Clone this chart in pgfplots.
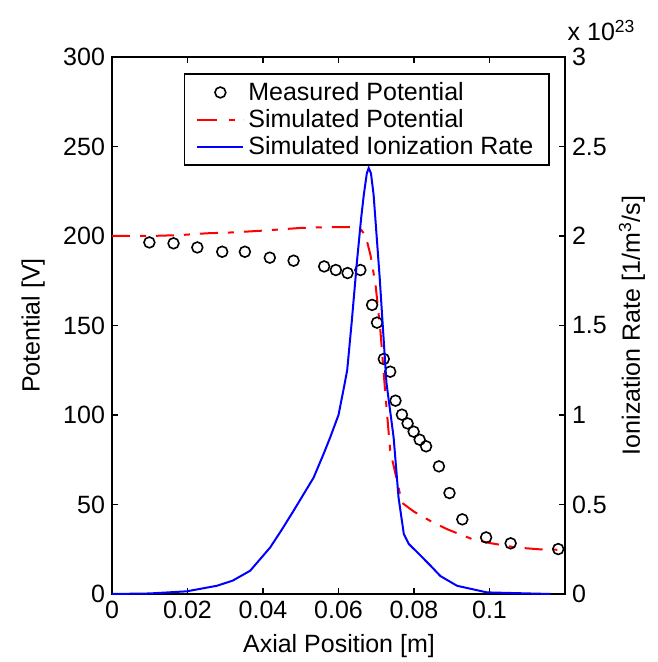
\documentclass[border=0pt]{standalone}
\usepackage{fontspec}
\setmainfont{Liberation Sans}
\usepackage{pgfplots}
\pgfplotsset{compat=1.18}
\usetikzlibrary{calc}

\pgfplotsset{
  /pgf/number format/assume math mode=true,
  myax/.style={
    width=226.5pt, height=268.5pt, scale only axis,
    xmin=0, xmax=0.12, ymin=0,
    font=\fontsize{12.5}{14.5}\selectfont,
    tick align=inside, major tick length=3pt,
    axis line style={line width=0.8pt},
    every tick/.style={black, line width=0.8pt},
  },
  lineleg/.style={legend image code/.code={\draw[##1] (0pt,0pt) -- (23pt,0pt);}},
  markleg/.style={legend image code/.code={\draw[##1] plot coordinates {(11.5pt,0pt)};}},
}

\begin{document}
\begin{tikzpicture}
  \begin{axis}[
      myax, name=ax,
      ymax=300,
      xtick={0,0.02,0.04,0.06,0.08,0.1},
      scaled x ticks=false,
      xticklabel style={/pgf/number format/fixed, /pgf/number format/precision=2},
      ytick={0,50,...,300},
      ytick pos=left,
      xlabel={Axial Position [m]},
      ylabel={Potential [V]},
      xlabel style={at={(axis description cs:0.501,-0.097)}, anchor=center},
      ylabel style={at={(axis description cs:-0.174,0.5)}, anchor=center},
    ]
    % measured potential
    \addplot[only marks, mark=o, mark size=2.7pt, black, line width=0.8pt]
      table[row sep=\\] {
        x y \\
        0.0099 196.4 \\ 0.0163 195.9 \\ 0.0226 193.6 \\ 0.0292 191.2 \\
        0.0352 191.2 \\ 0.0418 187.9 \\ 0.0481 186.2 \\ 0.0562 183.0 \\
        0.0593 181.0 \\ 0.0624 179.3 \\ 0.0658 181.0 \\ 0.0689 161.5 \\
        0.0702 151.6 \\ 0.0720 131.3 \\ 0.0737 124.2 \\ 0.0751 108.0 \\
        0.0768 100.2 \\ 0.0783 95.3 \\ 0.0799 90.7 \\ 0.0815 86.2 \\
        0.0832 82.5 \\ 0.0866 71.3 \\ 0.0894 56.4 \\ 0.0928 41.7 \\
        0.0991 31.6 \\ 0.1056 28.3 \\ 0.1182 25.1 \\
      };
    % simulated potential
    \addplot[red, line width=1pt, dash pattern=on 9pt off 5pt on 3pt off 5pt]
      table[row sep=\\] {
        x y \\
        0 200 \\ 0.010 200 \\ 0.018 200.5 \\ 0.025 201.5 \\ 0.032 202 \\
        0.040 203 \\ 0.050 204.5 \\ 0.058 205 \\ 0.064 205 \\ 0.066 203.5 \\
        0.0672 200 \\ 0.0685 189 \\ 0.0698 173 \\ 0.0711 147 \\ 0.0724 112 \\
        0.0737 80 \\ 0.0751 67 \\ 0.0768 51 \\ 0.080 46 \\ 0.085 40 \\
        0.089 36 \\ 0.095 31 \\ 0.100 28.5 \\ 0.107 26 \\ 0.113 25 \\
        0.118 24.7 \\
      };
  \end{axis}
  \begin{axis}[
      myax,
      ymax=3, clip=false,
      axis x line=none,
      axis y line*=right,
      ytick={0,0.5,...,3},
      yticklabel style={/pgf/number format/fixed},
      ylabel={Ionization Rate [1/m\textsuperscript{3}/s]},
      ylabel style={at={(axis description cs:1.148,0.5)}, anchor=center},
      legend cell align=left,
      legend style={
        at={(0.967,0.970)}, anchor=north east,
        draw=black, line width=0.8pt,
        font=\fontsize{12.5}{14.5}\selectfont,
        inner xsep=6pt, inner ysep=2pt, row sep=-1pt,
      },
    ]
    \addlegendimage{only marks, mark=o, mark size=2.7pt, black, line width=0.8pt, markleg}
    \addlegendentry{Measured Potential}
    \addlegendimage{red, line width=1pt, dash pattern=on 10pt off 6pt on 3pt off 4pt, lineleg}
    \addlegendentry{Simulated Potential}
    \addplot[blue, line width=1pt, lineleg]
      table[row sep=\\] {
        x y \\
        0 0 \\ 0.010 0.003 \\ 0.0198 0.015 \\ 0.0278 0.046 \\ 0.0320 0.075 \\
        0.0366 0.13 \\ 0.0419 0.26 \\ 0.0450 0.36 \\ 0.0481 0.465 \\
        0.0534 0.65 \\ 0.0560 0.78 \\ 0.0578 0.875 \\ 0.0600 1.00 \\
        0.0614 1.15 \\ 0.0623 1.25 \\ 0.0635 1.52 \\ 0.0649 1.86 \\
        0.0660 2.10 \\ 0.0667 2.23 \\ 0.0675 2.35 \\ 0.0680 2.38 \\
        0.0686 2.35 \\ 0.0693 2.23 \\ 0.0709 1.77 \\ 0.0727 1.18 \\
        0.0746 0.875 \\ 0.0759 0.54 \\ 0.0773 0.335 \\ 0.0786 0.28 \\
        0.0810 0.23 \\ 0.0843 0.16 \\ 0.0870 0.10 \\ 0.0914 0.046 \\
        0.0993 0.009 \\ 0.1162 0 \\
      };
    \addlegendentry{Simulated Ionization Rate}
    \node[anchor=base west, inner sep=0pt, font=\fontsize{12.5}{14.5}\selectfont]
      at (axis description cs:1.005,1.03) {x 10\textsuperscript{23}};
  \end{axis}
  \pgfresetboundingbox
  \path[use as bounding box] ($(ax.south west)+(-56pt,-34pt)$) rectangle ($(ax.north east)+(46pt,28.5pt)$);
\end{tikzpicture}
\end{document}
